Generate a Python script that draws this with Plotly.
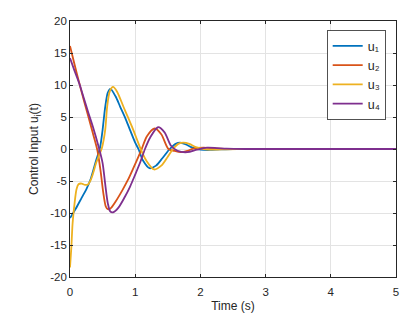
import plotly.graph_objects as go

# ---- data ----
t_u1 = [0, 0.09, 0.18, 0.25, 0.32, 0.40, 0.46, 0.50, 0.54, 0.58, 0.62, 0.70, 0.77, 0.85, 0.92, 1.00, 1.05, 1.12, 1.22, 1.32, 1.42, 1.53, 1.62, 1.69, 1.78, 1.88, 2.00, 2.15, 2.30, 2.50, 2.80, 3.20, 4.00, 5.00]
u1 = [-10.8, -9.3, -7.6, -6.3, -4.6, -1.8, 0.2, 3.0, 6.6, 8.8, 9.4, 8.2, 6.6, 4.8, 3.0, 1.0, 0.0, -1.8, -3.0, -2.6, -1.4, 0.0, 0.8, 1.0, 0.7, 0.2, -0.1, -0.15, -0.05, 0.0, 0.0, 0.0, 0.0, 0.0]

t_u2 = [0, 0.07, 0.14, 0.21, 0.28, 0.35, 0.42, 0.47, 0.51, 0.55, 0.58, 0.62, 0.70, 0.80, 0.89, 0.98, 1.05, 1.10, 1.18, 1.30, 1.40, 1.51, 1.60, 1.70, 1.80, 1.90, 2.05, 2.20, 2.40, 2.70, 3.20, 4.00, 5.00]
u2 = [16.1, 13.2, 10.4, 7.7, 5.1, 2.5, -0.2, -3.5, -6.8, -9.0, -9.4, -9.3, -8.2, -6.5, -4.8, -2.8, -1.2, 0.0, 2.0, 3.2, 2.3, 0.0, -0.3, -0.5, -0.3, 0.1, 0.2, 0.1, 0.0, 0.0, 0.0, 0.0, 0.0]

t_u3 = [0, 0.02, 0.04, 0.07, 0.10, 0.13, 0.18, 0.23, 0.28, 0.32, 0.36, 0.40, 0.45, 0.49, 0.54, 0.57, 0.61, 0.66, 0.72, 0.82, 0.90, 0.97, 1.03, 1.08, 1.17, 1.29, 1.40, 1.50, 1.58, 1.66, 1.74, 1.83, 1.93, 2.05, 2.20, 2.40, 2.70, 3.20, 4.00, 5.00]
u3 = [-18.5, -15.5, -11.6, -8.5, -6.3, -5.5, -5.4, -5.6, -5.5, -4.8, -3.6, -2.2, -0.9, 0.2, 3.0, 6.6, 9.0, 9.7, 9.0, 6.6, 4.7, 3.0, 1.4, 0.1, -1.8, -3.2, -2.6, -1.2, 0.0, 0.8, 1.0, 0.8, 0.3, 0.0, -0.1, -0.05, 0.0, 0.0, 0.0, 0.0]

t_u4 = [0, 0.07, 0.14, 0.21, 0.28, 0.35, 0.44, 0.50, 0.54, 0.58, 0.62, 0.66, 0.74, 0.84, 0.92, 1.00, 1.08, 1.15, 1.23, 1.35, 1.45, 1.55, 1.65, 1.80, 1.95, 2.10, 2.25, 2.40, 2.70, 3.20, 4.00, 5.00]
u4 = [14.2, 12.2, 10.3, 8.0, 5.7, 3.5, 0.3, -2.2, -5.5, -8.5, -9.8, -9.9, -9.2, -7.5, -5.9, -4.0, -2.0, 0.0, 1.8, 3.4, 2.6, 0.5, -0.3, -0.5, -0.1, 0.2, 0.15, 0.05, 0.0, 0.0, 0.0, 0.0]

names = ["u\u2081", "u\u2082", "u\u2083", "u\u2084"]
colors = ["#0072BD", "#D95319", "#EDB120", "#7E2F8E"]

x_ticks = [0, 1, 2, 3, 4, 5]
x_ticklabels = ["0", "1", "2", "3", "4", "5"]
y_ticks = [-20, -15, -10, -5, 0, 5, 10, 15, 20]
y_ticklabels = ["-20", "-15", "-10", "-5", "0", "5", "10", "15", "20"]

FONT = "Liberation Sans, Arial, sans-serif"

fig = go.Figure()
for tt, uu, nm, c in zip([t_u1, t_u2, t_u3, t_u4], [u1, u2, u3, u4], names, colors):
    fig.add_trace(go.Scatter(x=tt, y=uu, name=nm, mode="lines",
                             line=dict(color=c, width=1.8, shape="spline", smoothing=0.8)))

axis_common = dict(
    showline=True, linecolor="#262626", linewidth=0.8, mirror="ticks",
    ticks="inside", ticklen=3, tickcolor="#262626", tickwidth=0.8,
    showgrid=True, gridcolor="#e3e3e3", gridwidth=0.8, zeroline=False,
    automargin=False,
    tickfont=dict(family=FONT, size=11.5, color="#262626"),
)

# the page body has an 8px margin, so the figure is sized/offset to compensate
fig.update_layout(
    width=408, height=307,
    margin=dict(l=62, r=20, t=13, b=38),
    paper_bgcolor="white", plot_bgcolor="white",
    font=dict(family=FONT, size=12, color="#262626"),
    xaxis=dict(range=[0, 5], tickvals=x_ticks, ticktext=x_ticklabels,
               ticklabelstandoff=4,
               title=dict(text="Time (s)", standoff=4,
                          font=dict(size=12, color="#262626")), **axis_common),
    yaxis=dict(range=[-20, 20], tickvals=y_ticks, ticktext=y_ticklabels,
               title=dict(text="Control Input u<sub>i</sub>(t)", standoff=8,
                          font=dict(size=12, color="#262626")), **axis_common),
    legend=dict(x=0.969, y=0.963, xanchor="right", yanchor="top",
                bgcolor="white", bordercolor="#262626", borderwidth=0.8,
                font=dict(family=FONT, size=12.5, color="#262626"), tracegroupgap=0,
                itemwidth=30),
    showlegend=True,
)

fig.write_html("out.html")
